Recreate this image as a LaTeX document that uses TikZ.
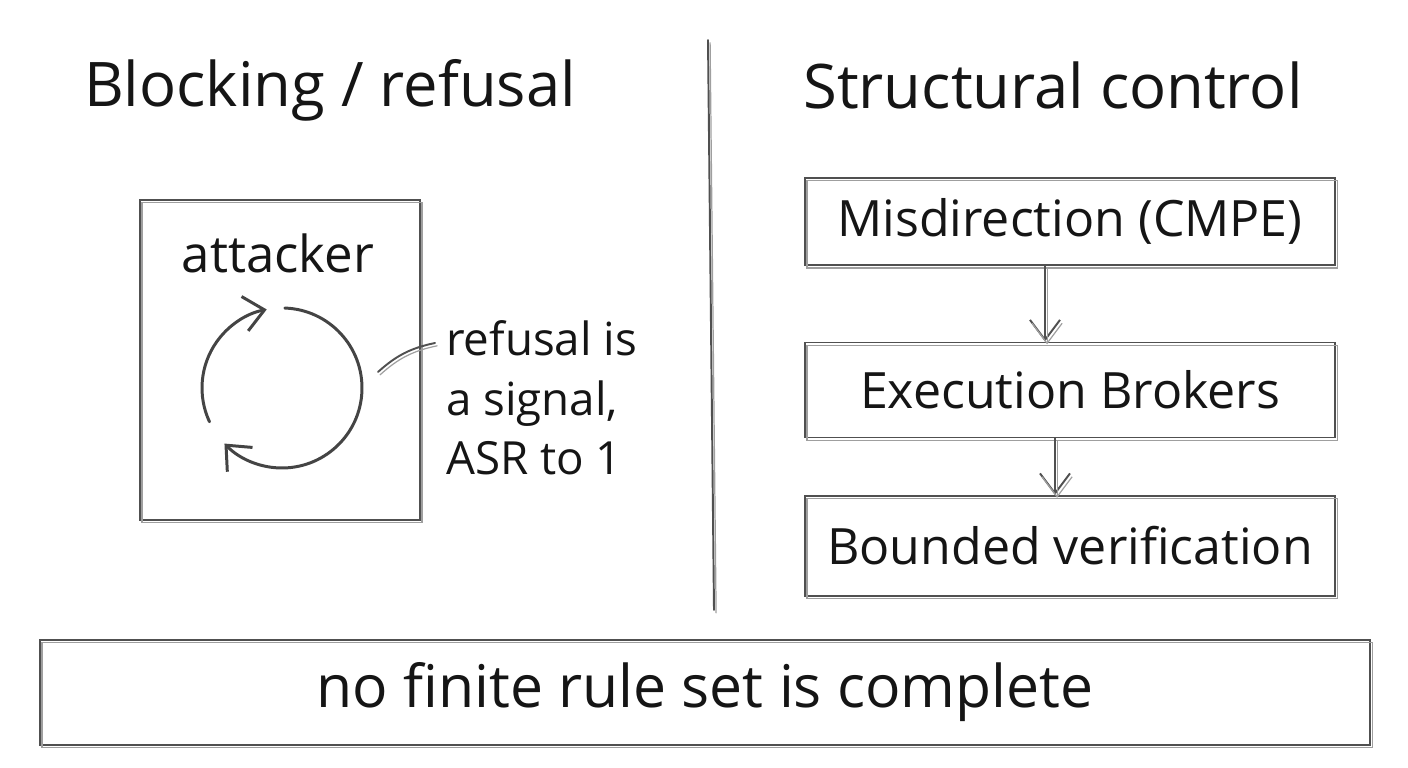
\documentclass[tikz,border=0pt]{standalone}
\usepackage{fontspec}
\setmainfont{Open Sans}
\usetikzlibrary{arrows.meta}
\definecolor{Ink}{HTML}{151515}
\definecolor{Pencil}{HTML}{505050}

\begin{document}
\begin{tikzpicture}[
  pencil/.style={draw=Pencil,line width=1.1pt,line cap=round,
    postaction={draw=Pencil!55,line width=0.7pt,transform canvas={shift={(1.2pt,-1.6pt)}}}},
  sketchbox/.style={rectangle,pencil,inner sep=0pt,text=Ink},
  title/.style={font=\fontsize{35}{40}\selectfont,text=Ink},
  boxtext/.style={font=\fontsize{28.5}{34}\selectfont},
  notetext/.style={font=\fontsize{26}{34}\selectfont,text=Ink,align=left},
  flow/.style={pencil,-{Straight Barb[length=4mm,width=6mm]}},
  cycle/.style={draw=Ink!80,line width=1.7pt,line cap=round,-{Straight Barb[length=4mm,width=7mm]}}
]
\useasboundingbox (0,0) rectangle (28.16,15.36);
% headings and divider
\node[title] (lhead) at (6.6,13.55) {Blocking / refusal};
\node[title] (rhead) at (21.06,13.65) {Structural control};
\coordinate (divtop) at (14.16,14.56);
\coordinate (divbot) at (14.28,3.16);
\draw[pencil] (divtop) -- (divbot);
% left side: attacker loop
\node[sketchbox,minimum width=5.6cm,minimum height=6.4cm] (abox) at (5.6,8.16) {};
\node[font=\fontsize{29}{34}\selectfont,text=Ink] (att) at (5.56,10.3) {attacker};
\coordinate (cyc) at (5.64,7.6);
\draw[cycle] ([shift={(205:1.6)}]cyc) arc[start angle=205,end angle=101,radius=1.6];
\draw[cycle] ([shift={(88:1.6)}]cyc) arc[start angle=88,end angle=-136,radius=1.6];
\node[notetext,anchor=west] (note) at (8.8,7.4) {refusal is\\a signal,\\ASR to 1};
\coordinate (tick) at (7.56,7.92);
\coordinate (tickend) at (8.7,8.5);
\draw[pencil] (tick) to[bend left=15] (tickend);
% right side: structural chain
\node[sketchbox,boxtext,minimum width=10.6cm,minimum height=1.75cm] (mis) at (21.4,10.93) {Misdirection (CMPE)};
\node[sketchbox,boxtext,minimum width=10.6cm,minimum height=1.9cm] (exe) at (21.4,7.56) {Execution Brokers};
\node[sketchbox,boxtext,minimum width=10.6cm,minimum height=2.0cm] (bnd) at (21.4,4.44) {Bounded verification};
\draw[flow] ([xshift=-0.5cm]mis.south) -- ([xshift=-0.5cm]exe.north);
\draw[flow] ([xshift=-0.3cm]exe.south) -- ([xshift=-0.3cm]bnd.north);
% bottom statement
\node[sketchbox,font=\fontsize{33.5}{38}\selectfont,minimum width=26.6cm,minimum height=2.1cm] (rule) at (14.1,1.51) {no finite rule set is complete};
\end{tikzpicture}
\end{document}
